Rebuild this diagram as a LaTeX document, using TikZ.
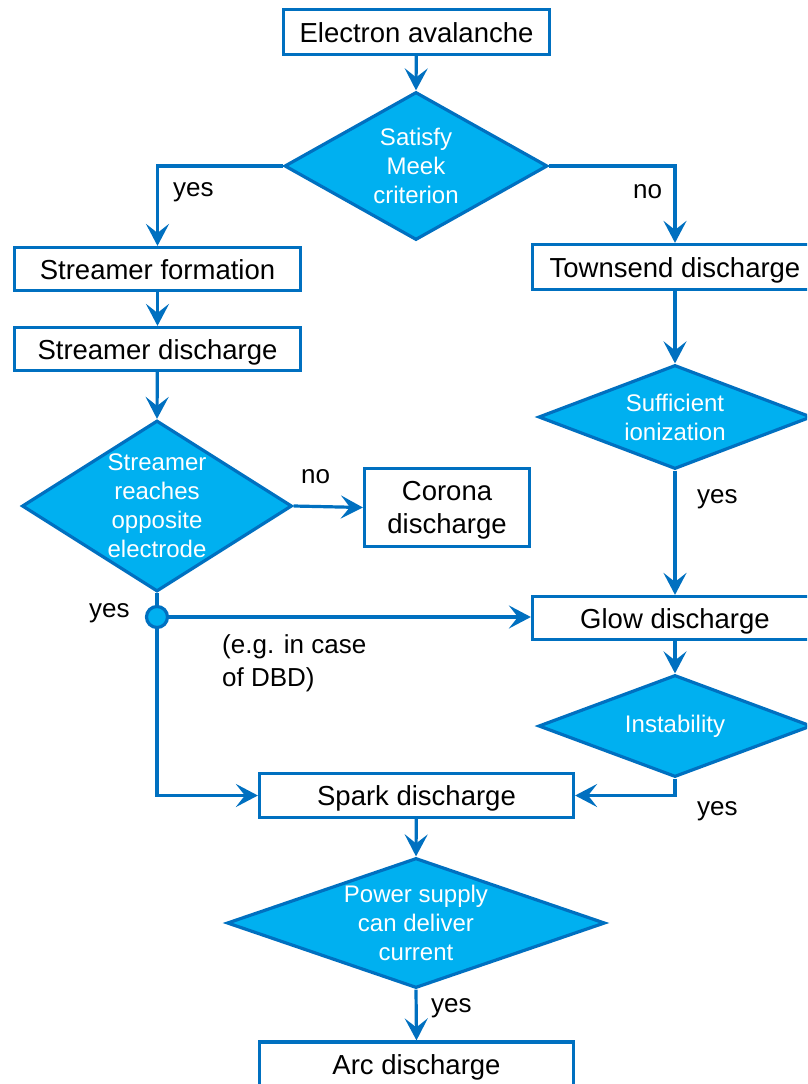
\documentclass[tikz,border=0pt]{standalone}
\usepackage{fontspec}
\setmainfont{Liberation Sans}
\usetikzlibrary{arrows.meta,shapes.geometric}
\definecolor{lineblue}{HTML}{0070C0}
\definecolor{fillblue}{HTML}{00B0F0}
\begin{document}
\begin{tikzpicture}[x=1pt,y=-1pt,
  boxbase/.style={draw=lineblue,line width=3.2pt,fill=white,inner sep=0pt,align=center,
    font=\fontsize{27.5}{33}\selectfont},
  box/.style={boxbase,text height=23pt,text depth=3pt},
  dia/.style={diamond,draw=lineblue,line width=3.2pt,fill=fillblue,inner sep=0pt},
  diatext/.style={text=white,font=\fontsize{24}{29}\selectfont,align=center,inner sep=0pt},
  lbl/.style={font=\fontsize{26}{33}\selectfont,inner sep=0pt},
  junc/.style={circle,draw=lineblue,fill=fillblue,line width=3.2pt,minimum size=21pt,inner sep=0pt},
  conn/.style={draw=lineblue,line width=3.2pt},
  arr/.style={conn,-{Stealth[length=22pt,width=23pt,inset=9pt]}},
]
\useasboundingbox (0,0) rectangle (807,1084);
\clip (0,0) rectangle (807,1084);

% nodes
\node[box,minimum width=266pt,minimum height=45pt] (ea) at (416.5,32) {Electron avalanche};
\node[dia,minimum width=263pt,minimum height=148pt,
  label={[diatext]center:{Satisfy\\Meek\\criterion}}] (meek) at (416,166) {};
\node[box,minimum width=286pt,minimum height=43pt] (sf) at (157.5,269) {Streamer formation};
\node[box,minimum width=286pt,minimum height=43pt] (sd) at (157.5,349) {Streamer discharge};
\node[box,minimum width=285pt,minimum height=45pt] (td) at (675,267) {Townsend discharge};
\node[dia,minimum width=270pt,minimum height=171pt,
  label={[diatext]center:{Streamer\\reaches\\opposite\\electrode}}] (sr) at (157,506) {};
\node[boxbase,minimum width=165pt,minimum height=78pt,text height=53pt,text depth=2pt] (cor) at (447,507.5) {Corona\\discharge};
\node[dia,minimum width=273pt,minimum height=104pt,
  label={[diatext]center:{Sufficient\\ionization}}] (suf) at (675,417) {};
\node[box,minimum width=285pt,minimum height=43pt] (glow) at (675,618) {Glow discharge};
\node[dia,minimum width=273pt,minimum height=102pt,
  label={[diatext]center:{Instability}}] (ins) at (675,726) {};
\node[box,minimum width=314pt,minimum height=44pt] (spark) at (416.5,795.5) {Spark discharge};
\node[dia,minimum width=378pt,minimum height=130pt,
  label={[diatext]center:{Power supply\\can deliver\\current}}] (pow) at (416,923) {};
\node[box,minimum width=314pt,minimum height=44pt] (arc) at (416.5,1064) {Arc discharge};

% connectors
\draw[arr] (ea) -- (meek.north);
\draw[arr] (meek.west) -| (sf.north);
\draw[arr] (meek.east) -| (td.north);
\draw[arr] (sf) -- (sd);
\draw[arr] (sd) -- (sr.north);
\draw[arr] (sr.east) -- (cor.west);
\draw[arr] (td) -- (suf.north);
\draw[arr] (suf.south) -- (glow.north);
\draw[arr] (glow) -- (ins.north);
\draw[arr] (ins.south) |- (spark.east);
\draw[arr] (spark) -- (pow.north);
\draw[arr] (pow.south) -- (arc.north);
\node[junc] (j) at (157,617) {};
\draw[conn] (sr.south) -- (j.north);
\draw[arr] (j.east) -- (j.east -| glow.west);
\draw[arr] (j.south) |- (spark.west);

% labels
\node[lbl,anchor=base west] (l1) at (173,196.5) {yes};
\node[lbl,anchor=base west] (l2) at (633,198) {no};
\node[lbl,anchor=base west] (l3) at (301,483) {no};
\node[lbl,anchor=base west] (l4) at (89,617) {yes};
\node[lbl,anchor=base west] (l5) at (697,503) {yes};
\node[lbl,anchor=base west] (l6) at (697,815) {yes};
\node[lbl,anchor=base west] (l7) at (431,1012) {yes};
\node[lbl,anchor=west,align=left] (l8) at (222,663) {(e.g. in case\\of DBD)};
\end{tikzpicture}
\end{document}
